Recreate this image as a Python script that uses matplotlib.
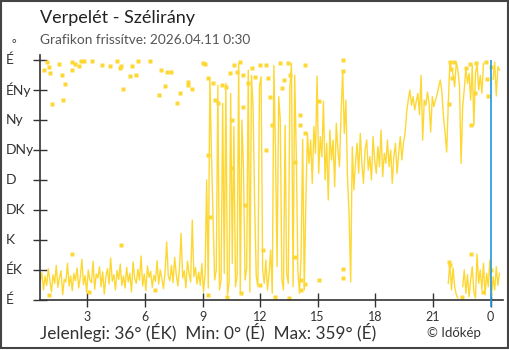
import numpy as np
import matplotlib
matplotlib.use('Agg')
import matplotlib.pyplot as plt
from matplotlib.transforms import blended_transform_factory

plt.rcParams['font.family'] = ['Lato', 'DejaVu Sans']

# wind direction in degrees, one reading every 5 minutes starting 0:33
dir_night = [
    28, 41, 15, 36, 22, 47, 30, 12, 38, 25, 52, 19, 33, 44, 8, 31, 27, 55, 21, 36,
    14, 40, 29, 48, 18, 34, 61, 23, 37, 11, 45, 30, 26, 58, 16, 39, 33, 50, 20, 42,
    9, 35, 47, 24, 63, 28, 38, 15, 44, 31, 54, 22, 36, 18, 49, 27, 40, 12, 57, 33,
    25, 46, 30, 66, 21, 39, 14, 51, 34, 43, 19, 37, 28, 59, 24, 45, 32, 17, 41, 87,
    36, 29, 52, 26, 64, 38, 21, 48, 100, 33, 44, 18, 58, 40, 27, 120, 35, 49, 24, 42,
]
dir_day = [
    22, 55, 12, 38, 180, 18, 333, 217, 125, 30, 45, 322, 15, 30, 295, 40, 325, 8,
    25, 310, 55, 260, 20, 35, 355, 10, 270, 198, 30, 48, 345, 12, 337, 290, 142, 35,
    20, 320, 335, 45, 25, 60, 15, 40, 75, 10, 352, 225, 50, 305, 270, 30, 15, 262,
    40, 25, 318, 355, 20, 337, 220, 45, 10, 65, 241, 15, 150,
]
dir_evening = [
    250, 205, 240, 175, 260, 220, 336, 190, 245,
    215, 298, 180, 235, 150, 255, 210, 240, 170, 265, 225, 200,
    280, 343, 250, 300,
    185, 128, 27, 230, 165, 205,
    235, 190, 250, 205, 175, 225, 240, 195, 215, 180, 245, 210, 190, 230, 200, 255,
    185, 220, 205, 240,
    200, 225, 175, 215, 235, 190, 220, 245, 210, 236, 250,
    282, 300, 315, 292, 305, 285, 298, 310, 278, 337, 240,
    300, 292, 312, 295, 252, 305, 290, 300, 308, 320, 330, 312, 275, 250, 222,
]
dir_late = [
    294, 357, 347, 338, 320, 357, 345, 322, 205, 290, 316, 348, 325, 340, 300, 352,
    262, 340, 354, 315, 337, 310, 355, None, None, None, None, None, 331, 357, 306,
    350, 345,
]
dir_late_low = [
    25, 57, 15, 48, 20, 8, 3, None, None, 20, 45, 10, 38, 5, 30, 50, 12, 3, 69, 25,
    45, 15, 55, 8, 40, 20, 60, 5, 35, 15, 50, 22, 40,
]

# isolated readings drawn as single squares
dot_hours = [
    0.75, 0.90, 1.00, 1.05, 1.16, 1.53, 1.68, 1.73, 1.84, 2.20, 2.20, 2.36, 2.57,
    2.67, 2.83, 3.25, 3.77, 4.18, 4.55, 4.70, 4.76, 4.86, 5.22, 5.33, 5.54, 5.64,
    6.27, 6.73, 6.84, 7.05, 7.15, 7.36, 7.67, 7.83, 8.24, 8.24, 8.45, 9.03, 9.13,
    9.29, 9.29, 9.39, 9.55, 9.65, 9.81, 10.02, 10.22, 10.43, 10.54, 10.54, 10.64,
    10.80, 10.95, 11.11, 11.11, 11.21, 11.37, 11.58, 11.73, 11.99, 12.15, 12.30,
    12.30, 12.41, 12.51, 12.62, 13.03, 13.14, 13.24, 13.45, 13.56, 13.82, 13.82,
    14.07, 14.07, 14.13, 14.13, 14.33, 14.33, 14.33, 15.06, 15.06, 16.31, 16.31,
    16.31, 16.31, 21.83, 21.90, 21.95, 22.00, 22.08, 22.72, 22.95, 23.00, 23.20,
    23.25, 23.75, 23.80, 23.85, 24.00,
    1.00, 2.20, 4.75, 3.10, 6.50, 9.30, 10.30, 11.00, 12.00, 12.80, 13.50,
    21.85, 21.90, 22.50, 23.00, 23.60, 24.00,
]
dot_dirs = [
    345, 357, 350, 340, 294, 354, 337, 300, 324, 357, 345, 354, 351,
    358, 358, 358, 352, 351, 359, 348, 351, 316, 336, 351, 337, 359,
    359, 307, 345, 321, 342, 342, 295, 310, 327, 323, 316, 356, 354,
    333, 217, 125, 325, 300, 295, 323, 320, 340, 270, 198, 352,
    342, 357, 337, 290, 142, 325, 348, 335, 352, 75, 352,
    225, 333, 305, 262, 355, 318, 330, 355, 337, 207, 65,
    277, 262, 30, 15, 352, 250, 24, 298, 30, 360, 343,
    46, 33, 294, 357, 347, 333, 357, 348, 354, 262, 310,
    355, 357, 331, 306, 350,
    8, 69, 82, 12, 15, 8, 4, 10, 22, 5, 3,
    57, 52, 5, 69, 12, 45,
]

start_hour = 0.55
step_hours = 5 / 60
midnight = 24.0

dir_labels = ['É', 'ÉK', 'K', 'DK', 'D', 'DNy', 'Ny', 'ÉNy', 'É']
dir_ticks = [0, 45, 90, 135, 180, 225, 270, 315, 360]
hour_ticks = [3, 6, 9, 12, 15, 18, 21, 24]
hour_labels = ['3', '6', '9', '12', '15', '18', '21', '0']

yellow = '#fdd835'
ink = '#333333'

main = np.array(dir_night + dir_day + dir_evening + dir_late, dtype=float)
t_main = start_hour + step_hours * np.arange(len(main))
low = np.array(dir_late_low, dtype=float)
t_low = t_main[len(main) - len(low):]

fig = plt.figure(figsize=(5.1, 3.5), dpi=100)
ax = fig.add_axes([40 / 510, 50 / 350, 463 / 510, 245 / 350])

ax.plot(t_main, main, color=yellow, lw=1.0)
ax.plot(t_low, low, color=yellow, lw=1.0)
ax.plot(dot_hours, dot_dirs, ls='none', marker='s', ms=3, color=yellow, mec='none')
ax.vlines(midnight, -10, 360, color='#2196e3', lw=1.2, clip_on=False, zorder=5)

ax.set_xlim(0.536, 24.65)
ax.set_ylim(0, 367.5)
for s in ['top', 'right']:
    ax.spines[s].set_visible(False)
for s in ['left', 'bottom']:
    ax.spines[s].set_color(ink)
    ax.spines[s].set_linewidth(1.2)

ax.set_xticks(hour_ticks)
ax.set_xticklabels(hour_labels)
ax.set_yticks(dir_ticks)
ax.set_yticklabels([])
ax.tick_params(direction='inout', length=9.5, width=1.0, color=ink,
               labelcolor=ink, labelsize=9)
ax.tick_params(axis='x', pad=3)

tr = blended_transform_factory(fig.transFigure, ax.transData)
for v, lab in zip(dir_ticks, dir_labels):
    ax.text(6 / 510, v, lab, transform=tr, ha='left', va='center',
            fontsize=10, color=ink)
ax.text(14 / 510, 1 - 45 / 350, '°', transform=fig.transFigure, ha='center',
        va='center', fontsize=8, color=ink)

fig.text(40 / 510, 1 - 18 / 350, 'Verpelét - Szélirány', fontsize=13,
         color='#222222', va='center')
fig.text(40 / 510, 1 - 40 / 350, 'Grafikon frissítve: 2026.04.11 0:30',
         fontsize=9.8, color='#555555', va='center')
fig.text(40 / 510, 1 - 339 / 350,
         'Jelenlegi: 36° (ÉK)  Min: 0° (É)  Max: 359° (É)',
         fontsize=12.4, color=ink, va='baseline')
fig.text(454 / 510, 1 - 337 / 350, '© Időkép', fontsize=9.5, color=ink,
         ha='center', va='baseline')

fig.add_artist(plt.Rectangle((1 / 510, 2 / 350), 507 / 510, 347 / 350,
                             transform=fig.transFigure, fill=False,
                             ec='#444444', lw=1.5))

fig.savefig('out.png', dpi=100)
